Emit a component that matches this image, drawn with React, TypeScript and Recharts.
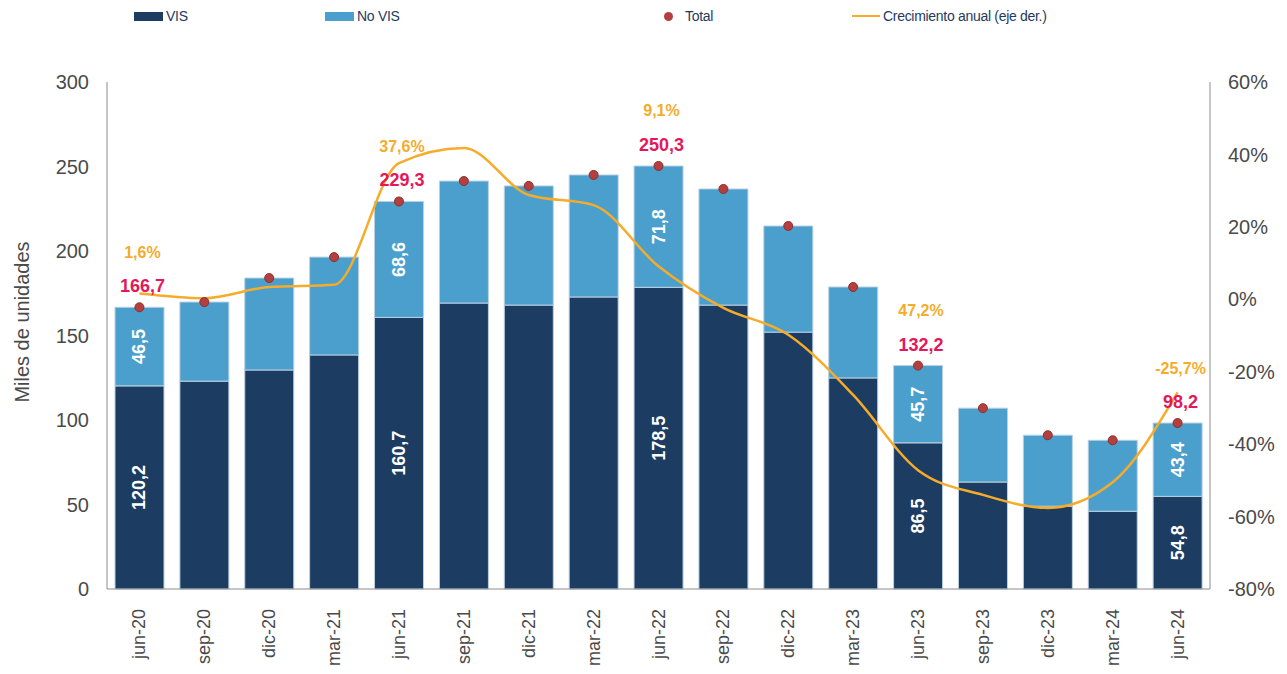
import { Bar, ComposedChart, LabelList, Line, XAxis, YAxis } from "recharts";

const quarters = [
  "jun-20", "sep-20", "dic-20", "mar-21", "jun-21", "sep-21", "dic-21", "mar-22", "jun-22",
  "sep-22", "dic-22", "mar-23", "jun-23", "sep-23", "dic-23", "mar-24", "jun-24",
];
const visValues = [120.2, 123, 129.6, 138.5, 160.7, 169.2, 168, 172.8, 178.5, 168, 152, 124.9, 86.5, 63.3, 49, 46, 54.8];
const noVisValues = [46.5, 46.8, 54.4, 57.9, 68.6, 72.2, 70.5, 72.2, 71.8, 68.7, 62.8, 53.8, 45.7, 43.7, 42, 42, 43.4];
const totalValues = [166.7, 169.8, 184, 196.4, 229.3, 241.4, 238.5, 245, 250.3, 236.7, 214.8, 178.7, 132.2, 107, 91, 88, 98.2];
const growthValues = [1.6, 0.3, 3.4, 4, 37.6, 41.8, 28.8, 26, 9.1, -2.4, -9.8, -26.4, -47.2, -54, -57.6, -50.5, -25.7];

// quarters that carry value labels, and the growth text as printed
const labeledQuarters = ["jun-20", "jun-21", "jun-22", "jun-23", "jun-24"];
const growthLabels = ["1,6%", "37,6%", "9,1%", "47,2%", "-25,7%"];

const leftTicks = [0, 50, 100, 150, 200, 250, 300];
const rightTicks = [-80, -60, -40, -20, 0, 20, 40, 60];

const VIS_COLOR = "#1c3c62";
const NOVIS_COLOR = "#4b9fcc";
const DOT_COLOR = "#b3403f";
const TOTAL_TEXT = "#e5175a";
const GROWTH_COLOR = "#f6ab2a";
const AXIS_TEXT = "#4a4a4a";
const FONT = "'Liberation Sans', Arial, sans-serif";

const data = quarters.map((q, i) => ({
  quarter: q,
  vis: visValues[i],
  noVis: noVisValues[i],
  total: totalValues[i],
  growth: growthValues[i],
}));

const fmt = (v: number) => v.toFixed(1).replace(".", ",");

function isLabeled(index: number) {
  return labeledQuarters.includes(quarters[index]);
}

function InsideLabel(props: any) {
  const { x, y, width, height, value, index } = props;
  if (!isLabeled(index)) return null;
  const cx = x + width / 2;
  const cy = y + height / 2;
  return (
    <text
      x={cx}
      y={cy}
      transform={`rotate(-90 ${cx} ${cy})`}
      textAnchor="middle"
      dominantBaseline="central"
      fill="#ffffff"
      fontSize={18}
      fontWeight="bold"
      fontFamily={FONT}
    >
      {fmt(value)}
    </text>
  );
}

function TotalLabel(props: any) {
  const { x, y, value, index } = props;
  if (!isLabeled(index)) return null;
  const g = growthLabels[labeledQuarters.indexOf(quarters[index])];
  return (
    <g fontFamily={FONT} fontWeight="bold" textAnchor="middle">
      <text x={x + 3} y={y - 21} dominantBaseline="central" fill={TOTAL_TEXT} fontSize={18}>
        {fmt(value)}
      </text>
      <text x={x + 3} y={y - 55} dominantBaseline="central" fill={GROWTH_COLOR} fontSize={16}>
        {g}
      </text>
    </g>
  );
}

function XTick(props: any) {
  const { x, y, payload } = props;
  return (
    <text
      x={x}
      y={y + 12}
      transform={`rotate(-90 ${x} ${y + 12})`}
      textAnchor="end"
      dominantBaseline="central"
      fill={AXIS_TEXT}
      fontSize={18}
      fontFamily={FONT}
    >
      {payload.value}
    </text>
  );
}

const legendItems = [
  { label: "VIS", left: 134, kind: "bar", color: VIS_COLOR },
  { label: "No VIS", left: 325, kind: "bar", color: NOVIS_COLOR },
  { label: "Total", left: 664, kind: "dot", color: DOT_COLOR },
  { label: "Crecimiento anual (eje der.)", left: 852, kind: "line", color: GROWTH_COLOR },
];

export default function App() {
  return (
    <div style={{ position: "absolute", left: 0, top: 0, width: 1287, height: 674, background: "#fff" }}>
      <div style={{ position: "absolute", top: 6, left: 0, fontFamily: FONT, fontSize: 14, letterSpacing: -0.3, color: "#1f3a5f" }}>
        {legendItems.map((item) => (
          <div
            key={item.label}
            style={{ position: "absolute", left: item.left, top: 0, display: "flex", alignItems: "center", whiteSpace: "nowrap", height: 20 }}
          >
            {item.kind === "bar" && <span style={{ width: 29, height: 9, background: item.color, marginRight: 3 }} />}
            {item.kind === "dot" && (
              <span style={{ width: 9, height: 9, borderRadius: "50%", background: item.color, marginRight: 12 }} />
            )}
            {item.kind === "line" && <span style={{ width: 28, height: 2, background: item.color, marginRight: 3 }} />}
            <span>{item.label}</span>
          </div>
        ))}
      </div>
      <ComposedChart width={1287} height={674} data={data} margin={{ top: 82, right: 0, bottom: 0, left: 0 }}>
        <XAxis
          dataKey="quarter"
          height={85}
          interval={0}
          tickLine={false}
          axisLine={{ stroke: "#8c8c8c" }}
          tick={<XTick />}
        />
        <YAxis
          yAxisId="left"
          width={107}
          domain={[0, 300]}
          ticks={leftTicks}
          tickLine={false}
          tickMargin={12}
          axisLine={{ stroke: "#8c8c8c" }}
          tick={{ fill: AXIS_TEXT, fontSize: 20, fontFamily: FONT }}
          label={() => (
            <text
              x={22}
              y={322}
              transform="rotate(-90 22 322)"
              textAnchor="middle"
              dominantBaseline="central"
              fill={AXIS_TEXT}
              fontSize={20}
              fontFamily={FONT}
            >
              Miles de unidades
            </text>
          )}
        />
        <YAxis
          yAxisId="right"
          orientation="right"
          width={77}
          domain={[-80, 60]}
          ticks={rightTicks}
          tickLine={false}
          tickMargin={12}
          axisLine={{ stroke: "#8c8c8c" }}
          tickFormatter={(v: number) => `${v}%`}
          tick={{ fill: AXIS_TEXT, fontSize: 20, fontFamily: FONT }}
        />
        <Bar yAxisId="left" dataKey="vis" stackId="a" barSize={49} fill={VIS_COLOR} stroke="#b9d0e3" strokeWidth={1} isAnimationActive={false}>
          <LabelList dataKey="vis" content={<InsideLabel />} />
        </Bar>
        <Bar yAxisId="left" dataKey="noVis" stackId="a" barSize={49} fill={NOVIS_COLOR} stroke="#b9d0e3" strokeWidth={1} isAnimationActive={false}>
          <LabelList dataKey="noVis" content={<InsideLabel />} />
        </Bar>
        <Line
          yAxisId="right"
          dataKey="growth"
          type="monotone"
          stroke={GROWTH_COLOR}
          strokeWidth={2.5}
          dot={false}
          activeDot={false}
          isAnimationActive={false}
        />
        <Line
          yAxisId="left"
          dataKey="total"
          stroke="none"
          dot={{ r: 4.5, fill: DOT_COLOR, stroke: "#8f2e2e", strokeWidth: 1, fillOpacity: 1 }}
          activeDot={false}
          isAnimationActive={false}
        >
          <LabelList dataKey="total" content={<TotalLabel />} />
        </Line>
      </ComposedChart>
    </div>
  );
}
